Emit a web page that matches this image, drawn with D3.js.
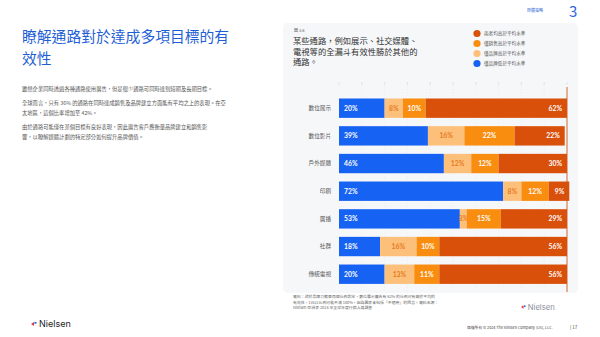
<!DOCTYPE html>
<html><head><meta charset="utf-8">
<script src="https://cdn.jsdelivr.net/npm/d3@7"></script>
<style>
html,body{margin:0;padding:0;background:#fff;}
svg{display:block;font-family:"Noto Sans CJK TC","Noto Sans",sans-serif;}
</style></head>
<body>
<svg id="c" width="600" height="337"></svg>
<script>
const categories = ["數位展示","數位影片","戶外媒體","印刷","廣播","社群","傳統電視"];
const seriesNames = ["僅品牌低於平均水準","僅品牌高於平均水準","僅銷售高於平均水準","兩者均高於平均水準"];
const bothBelow   = [20,39,46,72,53,18,20];
const brandOnly   = [8,16,12,8,3,16,13];
const salesOnly   = [10,22,12,12,15,10,11];
const bothAbove   = [62,22,30,9,29,56,56];
const xTicks = [0,10,20,30,40,50,60,70,80,90,100];
const legendOrder = [3,2,1,0];

const colors = ["#1662f2","#fcc07a","#f98d10","#d9500b"];
const labelColors = ["#ffffff","#e77a22","#ffffff","#ffffff"];

const svg = d3.select("#c");

// Left page text
svg.append("text").attr("x",22).attr("y",42).attr("font-size",14.8).attr("fill","#1f5fd6").text("瞭解通路對於達成多項目標的有");
svg.append("text").attr("x",22).attr("y",64).attr("font-size",14.8).attr("fill","#1f5fd6").text("效性");
const para = [
 [91,"雖然企業同時透過各種通路使用廣告，但是很少通路可同時達到短期及長期目標。"],
 [105,"全球而言，只有 36% 的通路在同時達成銷售及品牌建立方面能有平均之上的表現。在亞"],
 [115,"太地區，這個比率增加至 42%。"],
 [129,"由於通路可能僅在某個目標有良好表現，因此廣告客戶應衡量品牌建立和銷售影"],
 [139,"響，以瞭解媒體計劃的特定部分如何提升品牌價值。"]
];
para.forEach(p=>svg.append("text").attr("x",22).attr("y",p[0]).attr("font-size",5.3).attr("fill","#555").text(p[1]));

// logo
function logo(g,x,y,s,col){
  g.append("path").attr("d",`M${x},${y} l${3*s},${-2*s} l0,${4*s}z`).attr("fill","#e03a3e");
  g.append("path").attr("d",`M${x+3.5*s},${y-2.2*s} l${3*s},${1*s} l${-3*s},${1.5*s}z`).attr("fill","#1662f2");
  g.append("text").attr("x",x+8*s).attr("y",y+3*s).attr("font-family","Inter, Roboto, sans-serif").attr("font-size",9*s).attr("fill",col).text("Nielsen");
}
logo(svg,31,324,1,"#222");

// top right
svg.append("text").attr("x",527).attr("y",12).attr("font-size",4).attr("fill","#3b6fd8").text("媒體策略");
svg.append("text").attr("x",569).attr("y",17).attr("font-size",15).attr("fill","#2f66e0").text("3");

// footer
svg.append("text").attr("x",467).attr("y",329).attr("font-size",3.8).attr("fill","#444").text("版權所有 © 2024 The Nielsen Company (US), LLC.");
svg.append("text").attr("x",570).attr("y",329).attr("font-size",4.5).attr("fill","#444").text("|  17");

// panel
svg.append("rect").attr("x",283).attr("y",23).attr("width",295).attr("height",270).attr("rx",5).attr("fill","#f6f7f9");
svg.append("text").attr("x",294).attr("y",32).attr("font-size",4).attr("fill","#555").text("圖 3.6");
["某些通路，例如展示、社交媒體、","電視等的全漏斗有效性勝於其他的","通路。"].forEach((t,i)=>
  svg.append("text").attr("x",293).attr("y",44+i*10.5).attr("font-size",8.3).attr("fill","#333").text(t));

// legend
const lg = svg.append("g");
legendOrder.forEach((si,i)=>{
  const yy = 33.5+i*10;
  lg.append("circle").attr("cx",477).attr("cy",yy).attr("r",3.6).attr("fill",colors[si]);
  lg.append("text").attr("x",484).attr("y",yy+1.8).attr("font-size",4.6).attr("fill","#555").text(seriesNames[si]);
});

// scales
const x = d3.scaleLinear().domain([0,100]).range([339,567]);
const y = d3.scaleBand().domain(categories).range([90.2,292.2]).padding(0.3);

// grid
svg.append("g").selectAll("line").data(xTicks.slice(1,-1)).join("line")
  .attr("x1",d=>x(d)).attr("x2",d=>x(d)).attr("y1",83).attr("y2",291)
  .attr("stroke","#e4e6ea").attr("stroke-width",0.6).attr("stroke-dasharray","1,2");
svg.append("g").selectAll("line").data(xTicks).join("line")
  .attr("x1",d=>x(d)).attr("x2",d=>x(d)).attr("y1",82).attr("y2",85)
  .attr("stroke","#dcdfe4").attr("stroke-width",0.8);

// stacked bars
const rows = categories.map((c,i)=>({cat:c, v:[bothBelow[i],brandOnly[i],salesOnly[i],bothAbove[i]]}));
const gBars = svg.append("g");
rows.forEach(r=>{
  let acc = 0;
  r.v.forEach((v,si)=>{
    const x0 = x(acc), x1 = x(acc+v);
    gBars.append("rect").attr("x",x0).attr("y",y(r.cat)).attr("width",Math.max(0,x1-x0)).attr("height",y.bandwidth()).attr("fill",colors[si]);
    let tx, anchor;
    if(si===0){tx=x0+5;anchor="start";}
    else if(si===3){tx=x1-5;anchor="end";}
    else {tx=(x0+x1)/2;anchor="middle";}
    gBars.append("text").attr("x",tx).attr("y",y(r.cat)+y.bandwidth()/2+2.4)
      .attr("text-anchor",anchor).attr("font-size",6.8).attr("font-weight","bold")
      .attr("font-family","Lato, 'Open Sans', sans-serif")
      .attr("fill",labelColors[si]).text(v+"%");
    acc += v;
  });
});

// 100% line
svg.append("line").attr("x1",x(100)).attr("x2",x(100)).attr("y1",87).attr("y2",292).attr("stroke","#c9561a").attr("stroke-width",0.9);

// y axis labels
const yAxis = d3.axisLeft(y).tickSize(0).tickPadding(0);
const ga = svg.append("g").attr("transform","translate(331,0)").call(yAxis);
ga.select(".domain").remove();
ga.selectAll("text").attr("font-size",5.6).attr("fill","#555").attr("font-family","'Noto Sans CJK TC',sans-serif");

// footnote
["資料：對於品牌力競賽兩個比例設定，數位展示廣告有 62% 的比例可有高於平均的",
 "有效性，1日以比例可能不滿 100%，因為圖表未包括「不適用」的回答。資料來源：",
 "Nielsen 亞洲表 2024 年全球年度行銷人員調查"].forEach((t,i)=>
  svg.append("text").attr("x",293).attr("y",298+i*5.5).attr("font-size",3.9).attr("fill","#666").text(t));
logo(svg,521,307,0.85,"#8a8f99");
</script>
</body></html>
